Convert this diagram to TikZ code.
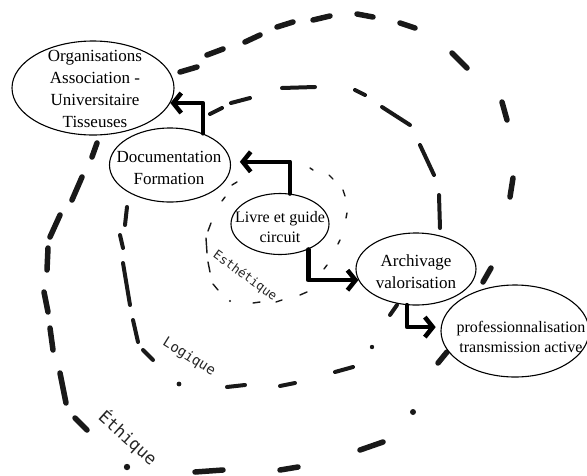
\documentclass[tikz,border=0pt]{standalone}
\usepackage{fontspec}
\setmainfont{Liberation Serif}
\newfontfamily\labfont{DejaVu Sans Mono}
\usetikzlibrary{shapes.geometric,arrows.meta}
\tikzset{
  ell/.style={draw, ellipse, line width=1.1pt, fill=white, inner sep=0pt},
  txt/.style={align=center, inner sep=0pt, font=\fontsize{17}{22}\selectfont},
  stxt/.style={align=center, inner sep=0pt, font=\fontsize{16}{20}\selectfont},
  arr/.style={line width=4.5pt, line join=round, line cap=round, -{Straight Barb[length=8pt,width=20pt]}},
  outerdash/.style={line width=5.5pt, line cap=round, black!90},
  middash/.style={line width=4pt, line cap=round, black!90},
  innerdash/.style={line width=1.4pt, line cap=round, black!90},
  lab/.style={inner sep=0pt, text=black!85}
}
\begin{document}
\begin{tikzpicture}[x=1pt,y=-1pt]
\useasboundingbox (0,0) rectangle (587,475);
% outer ring (Ethique)
\foreach \ax/\ay/\bx/\by in {180/72/197/67, 207/55/223/49, 245/42/260/35, 277/27/293/22, 313/20/330/16, 357/14/373/17, 400/23/415/28, 452/53/467/68, 502/102/507/120, 513/178/510/197, 491/268/483/282, 447/352/438/363, 360/450/383/442, 280/470/298/467, 195/472/223/470, 75/418/87/430, 60/373/66/403, 50/328/53/350, 44/292/48/312, 48/248/47/270, 60/215/50/237, 82/177/72/200, 97/143/92/157}
  \draw[outerdash] (\ax,\ay) -- (\bx,\by);
\fill[black!90] (413,412) circle (3pt) (127,467) circle (3.2pt);
% middle ring (Logique)
\foreach \ax/\ay/\bx/\by in {210/114/222/108, 231/103/250/98, 282/88/315/87, 355/90/365/95, 382/107/410/125, 420/145/434/175, 439/195/440/228, 397/305/390/315, 353/367/335/372, 295/383/280/386, 245/385/227/387, 153/360/143/350, 138/342/133/320, 130/305/123/263, 123/248/120/235, 127/207/125/225}
  \draw[middash] (\ax,\ay) -- (\bx,\by);
\fill[black!90] (372,347) circle (2.2pt) (179,384) circle (2.4pt);
% inner ring (Esthetique)
\foreach \ax/\ay/\bx/\by in {310/168/313/170, 329/175/333/179, 343/190/345/196, 347/213/346/218, 340/240/338/244, 327/265/324/269, 307/292/300/295, 282/300/276/302, 260/302/253/303, 218/290/213/284, 210/272/208/262, 207/253/206/238, 211/223/208/231, 225/197/222/201, 232/185/237/182}
  \draw[innerdash] (\ax,\ay) -- (\bx,\by);
\fill[black!90] (230,301) circle (1.2pt);
% labels
\node[lab, font=\labfont\fontsize{17}{20}\selectfont, rotate=-42] (lethique) at (128,438) {Éthique};
\node[lab, font=\labfont\fontsize{14}{16}\selectfont, rotate=-32] (llogique) at (189,357) {Logique};
\node[lab, font=\labfont\fontsize{12.5}{14}\selectfont, rotate=-36] (lesthetique) at (245,276) {Esthétique};
% ellipses
\node[ell, minimum width=162pt, minimum height=94pt] (org) at (93,88) {};
\node[ell, minimum width=121pt, minimum height=74pt] (doc) at (170,165) {};
\node[ell, minimum width=98pt, minimum height=61pt] (livre) at (280,224) {};
\node[ell, minimum width=120pt, minimum height=72pt] (arch) at (416,269) {};
\node[ell, minimum width=148pt, minimum height=92pt] (prof) at (515,331) {};
% texts
\node[txt] (orgt) at (95,88.5) {Organisations\\Association -\\Universitaire\\Tisseuses};
\node[txt] (doct) at (169,168) {Documentation\\Formation};
\node[stxt] (livret) at (280,227) {Livre et guide\\circuit};
\node[txt] (archt) at (416,272) {Archivage\\valorisation};
\node[stxt] (proft) at (521,337) {professionnalisation\\transmission active};
% arrows
\draw[arr] (doc.44) |- (org.-11);
\draw[arr, shorten >=9pt] (livre.72) |- (doc.3);
\draw[arr] (livre.-42) |- (arch.191);
\draw[arr, shorten >=5pt] (arch.-104) |- (prof.177);
\end{tikzpicture}
\end{document}
